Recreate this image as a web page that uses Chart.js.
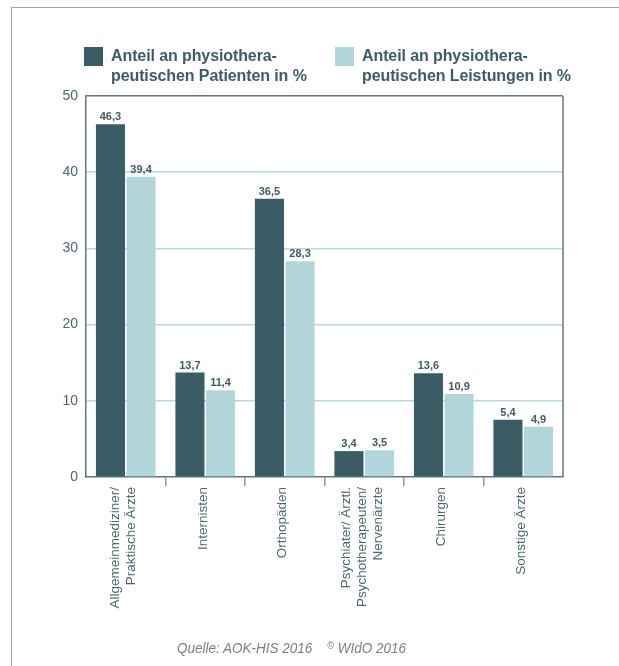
<!DOCTYPE html>
<html lang="de">
<head>
<meta charset="utf-8">
<script src="https://cdn.jsdelivr.net/npm/chart.js@4.4.1/dist/chart.umd.min.js"></script>
<style>
  html, body { margin: 0; padding: 0; background: #fff; }
  #wrap { position: relative; width: 619px; height: 666px; overflow: hidden; font-family: "Liberation Sans", Arial, sans-serif; }
  #frame { position: absolute; left: 11px; top: 7px; right: -5px; bottom: -5px; border-left: 1.5px solid #a3a3a3; border-top: 1.5px solid #a3a3a3; }
  #chart { position: absolute; left: 0; top: 0; }
  .leg { position: absolute; top: 47px; display: flex; align-items: flex-start; }
  .leg .box { width: 19px; height: 19px; margin-right: 8px; flex: none; }
  .leg .txt { font-weight: bold; font-size: 16px; line-height: 20px; color: #3d5d64; margin-top: -1px; letter-spacing: -0.1px; }
  #source { position: absolute; left: 177px; top: 639px; font-style: italic; font-size: 15px; color: #7d7d7d; white-space: pre; transform: scaleX(0.9); transform-origin: 0 0; }
  #source .c { font-size: 10px; vertical-align: 4px; }
</style>
</head>
<body>
<div id="wrap">
  <div id="frame"></div>
  <canvas id="chart" width="619" height="666"></canvas>
  <div id="legend"></div>
  <div id="source">Quelle: AOK-HIS 2016    <span class="c">©</span> WIdO 2016</div>
</div>
<script>
// Daten
const categories = [
  ['Allgemeinmediziner/', 'Praktische Ärzte'],
  ['Internisten'],
  ['Orthopäden'],
  ['Psychiater/ Ärztl.', 'Psychotherapeuten/', 'Nervenärzte'],
  ['Chirurgen'],
  ['Sonstige Ärzte'],
];
const seriesNames = [
  ['Anteil an physiothera-', 'peutischen Patienten in %'],
  ['Anteil an physiothera-', 'peutischen Leistungen in %'],
];
// Balkenhöhen
const patienten = [46.3, 13.7, 36.5, 3.4, 13.6, 7.5];
const leistungen = [39.4, 11.4, 28.3, 3.5, 10.9, 6.6];
// Beschriftungen wie im Bild
const patientenLabels = ['46,3', '13,7', '36,5', '3,4', '13,6', '5,4'];
const leistungenLabels = ['39,4', '11,4', '28,3', '3,5', '10,9', '4,9'];
const yTicks = [0, 10, 20, 30, 40, 50];

const DARK = '#3a5d65';
const LIGHT = '#b3d6db';
const AXIS = '#62777c';
const GRID = '#b8dade';
const TEXT = '#4a6970';

// Legende
const legendPos = [84, 335];
document.getElementById('legend').innerHTML = seriesNames.map((lines, i) =>
  `<div class="leg" style="left:${legendPos[i]}px"><div class="box" style="background:${i === 0 ? DARK : LIGHT}"></div>` +
  `<div class="txt">${lines.join('<br>')}</div></div>`
).join('');

const valueLabels = {
  id: 'valueLabels',
  afterDatasetsDraw(chart) {
    const ctx = chart.ctx;
    const texts = [patientenLabels, leistungenLabels];
    ctx.save();
    ctx.font = 'bold 11px "Liberation Sans", Arial, sans-serif';
    ctx.fillStyle = '#3d5d64';
    ctx.textAlign = 'center';
    ctx.textBaseline = 'alphabetic';
    chart.data.datasets.forEach((ds, di) => {
      chart.getDatasetMeta(di).data.forEach((bar, i) => {
        ctx.fillText(texts[di][i], bar.x, bar.y - 4);
      });
    });
    ctx.restore();
  }
};

const frameAndLabels = {
  id: 'frameAndLabels',
  afterDraw(chart) {
    const ctx = chart.ctx;
    const a = chart.chartArea;
    ctx.save();
    ctx.strokeStyle = AXIS;
    ctx.lineWidth = 1.5;
    ctx.beginPath();
    ctx.moveTo(a.right, a.top);
    ctx.lineTo(a.right, a.bottom);
    ctx.stroke();

    // gedrehte Kategorien
    const x = chart.scales.x;
    const lh = 16;
    ctx.font = '13.5px "Liberation Sans", Arial, sans-serif';
    ctx.fillStyle = TEXT;
    ctx.textAlign = 'right';
    ctx.textBaseline = 'middle';
    categories.forEach((lines, i) => {
      const cx = x.getPixelForValue(i) - 2;
      lines.forEach((line, j) => {
        const lx = cx + (j - (lines.length - 1) / 2) * lh;
        ctx.save();
        ctx.translate(lx, a.bottom + 10);
        ctx.rotate(-Math.PI / 2);
        ctx.fillText(line, 0, 0);
        ctx.restore();
      });
    });
    ctx.restore();
  }
};

new Chart(document.getElementById('chart'), {
  type: 'bar',
  data: {
    labels: categories,
    datasets: [
      { label: seriesNames[0].join(' '), data: patienten, backgroundColor: DARK },
      { label: seriesNames[1].join(' '), data: leistungen, backgroundColor: LIGHT },
    ],
  },
  options: {
    responsive: false,
    animation: false,
    events: [],
    layout: { padding: { top: 96, right: 56, left: 0, bottom: 0 } },
    datasets: { bar: { categoryPercentage: 0.77, barPercentage: 0.95 } },
    plugins: { legend: { display: false }, tooltip: { enabled: false } },
    scales: {
      x: {
        offset: true,
        afterFit(s) { s.height = 189; },
        border: { color: AXIS, width: 1.5 },
        grid: {
          drawOnChartArea: false,
          drawTicks: true,
          tickLength: 9,
          lineWidth: 1.5,
          color: c => (c.type === 'tick' && c.index > 0) ? '#8a9ca0' : 'rgba(0,0,0,0)',
        },
        ticks: { display: false, autoSkip: false },
      },
      y: {
        min: 0,
        max: 50,
        afterFit(s) { s.width = 86; },
        afterBuildTicks(s) { s.ticks = yTicks.map(v => ({ value: v })); },
        border: { color: AXIS, width: 1.5 },
        grid: {
          drawTicks: false,
          lineWidth: 1.5,
          color: c => c.tick.value === 50 ? AXIS : (c.tick.value === 0 ? 'rgba(0,0,0,0)' : GRID),
        },
        ticks: {
          padding: 8,
          color: '#4d6870',
          font: { family: '"Liberation Sans", Arial, sans-serif', size: 14 },
        },
      },
    },
  },
  plugins: [valueLabels, frameAndLabels],
});
</script>
</body>
</html>
